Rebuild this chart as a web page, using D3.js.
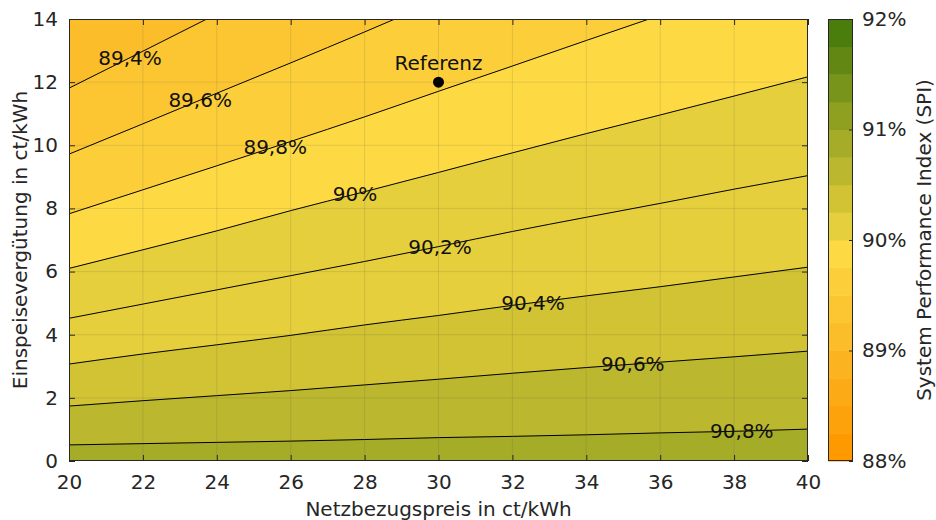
<!DOCTYPE html>
<html>
<head>
<meta charset="utf-8">
<script src="https://cdn.jsdelivr.net/npm/d3@7/dist/d3.min.js"></script>
<style>
  body { margin: 0; background: #fff; }
  svg text { font-family: "DejaVu Sans", sans-serif; fill: #262626; }
</style>
</head>
<body>
<svg id="chart" width="936" height="520"></svg>
<script>
// Axis ticks
const xTicks = [20, 22, 24, 26, 28, 30, 32, 34, 36, 38, 40];
const yTicks = [0, 2, 4, 6, 8, 10, 12, 14];

// Iso-lines of the System Performance Index: [Netzbezugspreis, Einspeisevergütung]
const levels = [89.4, 89.6, 89.8, 90.0, 90.2, 90.4, 90.6, 90.8];
const iso894 = [[20, 11.81], [22, 12.98], [23.73, 14]];
const iso896 = [[20, 9.72], [22, 10.68], [24, 11.65], [26, 12.61], [28, 13.59], [28.82, 14]];
const iso898 = [[20, 7.83], [22, 8.59], [24, 9.35], [26, 10.12], [28, 10.90], [30, 11.71], [32, 12.51], [34, 13.32], [35.7, 14]];
const iso900 = [[20, 6.10], [22, 6.69], [24, 7.29], [26, 7.93], [28, 8.53], [30, 9.14], [32, 9.76], [34, 10.37], [36, 10.96], [38, 11.56], [40, 12.17]];
const iso902 = [[20, 4.52], [22, 4.97], [24, 5.42], [26, 5.87], [28, 6.32], [30, 6.79], [32, 7.27], [34, 7.72], [36, 8.16], [38, 8.61], [40, 9.04]];
const iso904 = [[20, 3.07], [22, 3.39], [24, 3.68], [26, 3.98], [28, 4.31], [30, 4.61], [32, 4.93], [34, 5.23], [36, 5.52], [38, 5.83], [40, 6.14]];
const iso906 = [[20, 1.74], [22, 1.91], [24, 2.07], [26, 2.23], [28, 2.41], [30, 2.59], [32, 2.78], [34, 2.96], [36, 3.13], [38, 3.30], [40, 3.48]];
const iso908 = [[20, 0.51], [22, 0.55], [24, 0.59], [26, 0.63], [28, 0.68], [30, 0.74], [32, 0.78], [34, 0.83], [36, 0.89], [38, 0.94], [40, 1.01]];
const isoLines = [iso894, iso896, iso898, iso900, iso902, iso904, iso906, iso908];
const baseLevel = 89.2; // band below the lowest iso-line (top-left corner)

// Inline labels of the iso-lines (position along x)
const labelX = [21.65, 23.55, 25.58, 27.74, 30.04, 32.56, 35.26, 38.21];
const labelText = ["89,4%", "89,6%", "89,8%", "90%", "90,2%", "90,4%", "90,6%", "90,8%"];

// Reference operating point
const refName = "Referenz";
const refX = 30;
const refY = 12;

// Colour bar
const cbarDomain = [88, 92];
const cbarTicks = [88, 89, 90, 91, 92];
const cbarTickLabels = ["88%", "89%", "90%", "91%", "92%"];
const bandColors = ["#ff9900", "#fda20b", "#fcab16", "#fbb420", "#fbbd2a", "#fcc633", "#fccf3a", "#fdda44",
                    "#e6cf3c", "#d1c334", "#bbb72e", "#a5ac27", "#8fa020", "#79941a", "#628813", "#4a7d0b"];

const FS = "20px";
const svg = d3.select("#chart");
const L = 69, R = 808, T = 19, B = 461;
const x = d3.scaleLinear().domain([20, 40]).range([L, R]);
const y = d3.scaleLinear().domain([0, 14]).range([B, T]);

const bandStep = (cbarDomain[1] - cbarDomain[0]) / bandColors.length;
const colorOf = v => bandColors[Math.max(0, Math.min(bandColors.length - 1,
  Math.floor((v - cbarDomain[0]) / bandStep + 1e-6)))];

svg.append("defs").append("clipPath").attr("id", "plot-clip")
  .append("rect").attr("x", L).attr("y", T).attr("width", R - L).attr("height", B - T);

const plot = svg.append("g").attr("clip-path", "url(#plot-clip)");

// filled bands: paint base colour, then each region below an iso-line
plot.append("rect").attr("x", L).attr("y", T).attr("width", R - L).attr("height", B - T)
  .attr("fill", colorOf(baseLevel));

const lineGen = d3.line().x(d => x(d[0])).y(d => y(d[1])).curve(d3.curveMonotoneX);

isoLines.forEach((pts, i) => {
  const last = pts[pts.length - 1];
  let d = lineGen(pts);
  if (last[0] < 40) d += `L${x(40)},${y(14)}`;
  d += `L${x(40)},${y(0)}L${x(20)},${y(0)}Z`;
  plot.append("path").attr("d", d).attr("fill", colorOf(levels[i]))
    .attr("stroke", colorOf(levels[i])).attr("stroke-width", 0.5);
});

// grid
const grid = plot.append("g").attr("stroke", "#5a5a5a").attr("stroke-opacity", 0.16).attr("stroke-width", 1);
xTicks.forEach(t => grid.append("line").attr("x1", x(t)).attr("x2", x(t)).attr("y1", T).attr("y2", B));
yTicks.forEach(t => grid.append("line").attr("y1", y(t)).attr("y2", y(t)).attr("x1", L).attr("x2", R));

// iso-lines
isoLines.forEach(pts => {
  plot.append("path").attr("d", lineGen(pts)).attr("fill", "none")
    .attr("stroke", "#000").attr("stroke-width", 1);
});

// inline labels
function yAt(pts, xv) {
  for (let k = 0; k < pts.length - 1; k++) {
    const a = pts[k], b = pts[k + 1];
    if (xv >= a[0] && xv <= b[0]) return a[1] + (b[1] - a[1]) * (xv - a[0]) / (b[0] - a[0]);
  }
  return pts[pts.length - 1][1];
}
isoLines.forEach((pts, i) => {
  plot.append("text").attr("x", x(labelX[i])).attr("y", y(yAt(pts, labelX[i])))
    .attr("text-anchor", "middle").attr("dy", "0.36em")
    .style("font-size", FS).style("fill", "#111")
    .text(labelText[i]);
});

// reference point
plot.append("circle").attr("cx", x(refX)).attr("cy", y(refY)).attr("r", 5.5).attr("fill", "#000");
plot.append("text").attr("x", x(refX)).attr("y", y(refY) - 12).attr("text-anchor", "middle")
  .style("font-size", FS).style("fill", "#111").text(refName);

// frame and axes with inward ticks
const xAxis = d3.axisBottom(x).tickValues(xTicks).tickSize(-6).tickPadding(14).tickFormat(d3.format("d"));
const yAxis = d3.axisLeft(y).tickValues(yTicks).tickSize(-6).tickPadding(11).tickFormat(d3.format("d"));
const gx = svg.append("g").attr("transform", `translate(0,${B})`).call(xAxis);
const gy = svg.append("g").attr("transform", `translate(${L},0)`).call(yAxis);
const gxTop = svg.append("g").attr("transform", `translate(0,${T})`)
  .call(d3.axisTop(x).tickValues(xTicks).tickSize(-6).tickFormat(""));
const gyRight = svg.append("g").attr("transform", `translate(${R},0)`)
  .call(d3.axisRight(y).tickValues(yTicks).tickSize(-6).tickFormat(""));
[gx, gy, gxTop, gyRight].forEach(g => {
  g.select(".domain").remove();
  g.selectAll("line").attr("stroke", "#262626");
  g.selectAll("text").style("font-size", FS).attr("fill", "#262626")
    .style("font-family", "'DejaVu Sans', sans-serif");
});
svg.append("rect").attr("x", L + 0.5).attr("y", T + 0.5).attr("width", R - L - 1).attr("height", B - T - 1)
  .attr("fill", "none").attr("stroke", "#262626").attr("stroke-width", 1);

// axis titles
svg.append("text").attr("x", (L + R) / 2).attr("y", 516).attr("text-anchor", "middle")
  .style("font-size", FS).text("Netzbezugspreis in ct/kWh");
svg.append("text").attr("transform", `translate(27,${(T + B) / 2}) rotate(-90)`).attr("text-anchor", "middle")
  .style("font-size", FS).text("Einspeisevergütung in ct/kWh");

// colour bar
const CL = 828, CR = 853;
const cb = d3.scaleLinear().domain(cbarDomain).range([B, T]);
const cbar = svg.append("g");
bandColors.forEach((c, i) => {
  const v0 = cbarDomain[0] + i * bandStep, v1 = v0 + bandStep;
  cbar.append("rect").attr("x", CL).attr("width", CR - CL)
    .attr("y", cb(v1)).attr("height", cb(v0) - cb(v1) + 0.5).attr("fill", c);
});
cbar.append("rect").attr("x", CL + 0.5).attr("y", T + 0.5).attr("width", CR - CL - 1).attr("height", B - T - 1)
  .attr("fill", "none").attr("stroke", "#262626").attr("stroke-width", 1);
const cAxis = d3.axisRight(cb).tickValues(cbarTicks).tickSize(-4).tickPadding(9)
  .tickFormat((d, i) => cbarTickLabels[i]);
const gc = svg.append("g").attr("transform", `translate(${CR},0)`).call(cAxis);
gc.select(".domain").remove();
gc.selectAll("line").attr("stroke", "#262626");
gc.selectAll("text").style("font-size", FS).attr("fill", "#262626")
  .style("font-family", "'DejaVu Sans', sans-serif");
svg.append("text").attr("transform", `translate(931,${(T + B) / 2}) rotate(-90)`).attr("text-anchor", "middle")
  .style("font-size", FS).text("System Performance Index (SPI)");
</script>
</body>
</html>
